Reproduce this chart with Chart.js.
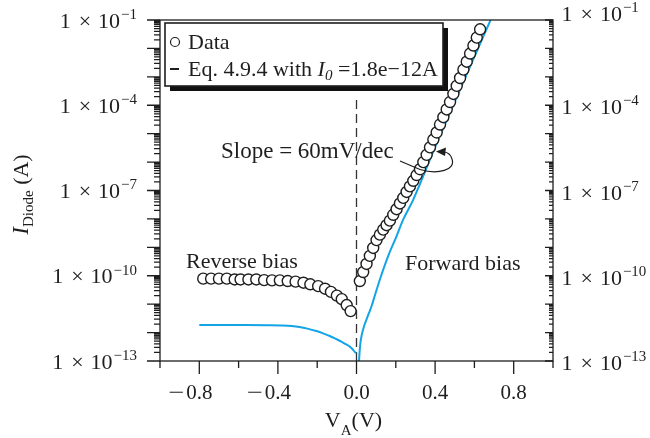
<!DOCTYPE html>
<html>
<head>
<meta charset="utf-8">
<script src="https://cdn.jsdelivr.net/npm/chart.js@4.4.1/dist/chart.umd.min.js"></script>
<style>
html, body { margin: 0; padding: 0; background: #fff; }
#wrap { width: 650px; height: 438px; }
</style>
</head>
<body>
<div id="wrap"><canvas id="chart-diode-iv" width="650" height="438"></canvas></div>
<script>
// measured |I| for the reverse sweep
var reverseV = [-0.78, -0.74, -0.70, -0.66, -0.62, -0.59, -0.55, -0.51, -0.47, -0.43, -0.39,
	-0.35, -0.31, -0.27, -0.235, -0.195, -0.16, -0.13, -0.10, -0.075, -0.05, -0.03];
var reverseI = [7.9e-11, 7.9e-11, 7.9e-11, 7.9e-11, 7.4e-11, 7.4e-11, 7.4e-11, 7.4e-11, 7.0e-11, 6.9e-11, 6.9e-11,
	6.5e-11, 6.2e-11, 5.7e-11, 5.0e-11, 4.3e-11, 3.5e-11, 2.7e-11, 2.0e-11, 1.5e-11, 9.3e-12, 5.7e-12];

// measured I for the forward sweep
var forwardV = [0.017, 0.034, 0.051, 0.068, 0.085, 0.102, 0.119, 0.136, 0.153, 0.170,
	0.187, 0.204, 0.221, 0.238, 0.255, 0.272, 0.289, 0.306, 0.323, 0.340,
	0.357, 0.374, 0.391, 0.408, 0.425, 0.442, 0.459, 0.476, 0.493, 0.510,
	0.527, 0.544, 0.561, 0.578, 0.595, 0.612, 0.629];
var forwardI = [6.5e-11, 1.35e-10, 2.6e-10, 5.0e-10, 9.5e-10, 1.8e-9, 2.8e-9, 4.2e-9, 6.0e-9, 8.7e-9,
	1.4e-8, 2.2e-8, 3.5e-8, 5.5e-8, 8.9e-8, 1.4e-7, 2.2e-7, 3.5e-7, 5.6e-7, 1.0e-6,
	1.8e-6, 3.3e-6, 6.2e-6, 1.1e-5, 2.1e-5, 3.8e-5, 7.1e-5, 1.3e-4, 2.5e-4, 4.8e-4,
	9.1e-4, 1.8e-3, 3.4e-3, 6.6e-3, 1.26e-2, 2.4e-2, 4.7e-2];

// Eq. 4.9.4 curve, I0 = 1.8e-12 A
var modelRevV = [-0.80, -0.60, -0.45, -0.375, -0.33, -0.29, -0.25, -0.204, -0.17, -0.136,
	-0.105, -0.077, -0.055, -0.034, -0.02, -0.009, -0.002];
var modelRevI = [1.84e-12, 1.84e-12, 1.82e-12, 1.78e-12, 1.7e-12, 1.57e-12, 1.38e-12, 1.13e-12, 9.4e-13, 7.6e-13,
	6.0e-13, 4.8e-13, 3.9e-13, 3.2e-13, 2.6e-13, 2.1e-13, 1.9e-13];
var modelFwdV = [0.011, 0.013, 0.016, 0.020, 0.027, 0.034, 0.042, 0.051, 0.063, 0.077,
	0.095, 0.119, 0.161, 0.204, 0.238, 0.289, 0.40, 0.55, 0.685];
var modelFwdI = [5e-14, 1e-13, 2.2e-13, 4.4e-13, 8.5e-13, 1.3e-12, 2.0e-12, 2.9e-12, 4.8e-12, 8.6e-12,
	2.2e-11, 7.4e-11, 4.9e-10, 2.5e-9, 9.6e-9, 4.8e-8, 3.35e-6, 8.4e-4, 0.11];

// V = 0 marker
var zeroLineV = [0, 0];
var zeroLineI = [1e-13, 2e-4];

var xTicks = [-0.8, -0.4, 0, 0.4, 0.8];
var xTickLabels = ['0.8', '0.4', '0.0', '0.4', '0.8'];
var xMinorTicks = [-1.0, -0.6, -0.2, 0.2, 0.6, 1.0];
var yTickExps = [-13, -10, -7, -4, -1];

var SERIF = '"Liberation Serif", "Times New Roman", serif';
var BLUE = '#12a4e6';
var INK = '#1e1e1e';

function pts(xs, ys) {
	return xs.map(function(v, i) { return { x: v, y: ys[i] }; });
}

// text runs: [text, size, italic, dy, gapAfter]
function runWidth(ctx, runs) {
	var w = 0;
	runs.forEach(function(r) {
		ctx.font = (r[2] ? 'italic ' : '') + r[1] + 'px ' + SERIF;
		w += ctx.measureText(r[0]).width + (r[4] || 0);
	});
	return w;
}
function drawRuns(ctx, runs, x, y) {
	runs.forEach(function(r) {
		ctx.font = (r[2] ? 'italic ' : '') + r[1] + 'px ' + SERIF;
		ctx.fillText(r[0], x, y + (r[3] || 0));
		x += ctx.measureText(r[0]).width + (r[4] || 0);
	});
	return x;
}
function powRuns(e) {
	return [['1', 22, false, 0, 8], ['\u00d7', 22, false, 0, 7], ['10', 22, false, 0, 1],
		['\u2212' + Math.abs(e), 15, false, -8.8, 0]];
}

var diodeDecor = {
	id: 'diodeDecor',
	afterDraw: function(chart) {
		var ctx = chart.ctx, a = chart.chartArea;
		var xs = chart.scales.x, ys = chart.scales.y;
		ctx.save();
		ctx.strokeStyle = INK;
		ctx.fillStyle = INK;
		ctx.lineWidth = 1.3;
		ctx.strokeRect(a.left, a.top, a.right - a.left, a.bottom - a.top);

		// x ticks, outward
		ctx.beginPath();
		xTicks.forEach(function(v) {
			var x = xs.getPixelForValue(v);
			ctx.moveTo(x, a.bottom); ctx.lineTo(x, a.bottom + 13);
		});
		xMinorTicks.forEach(function(v) {
			var x = xs.getPixelForValue(v);
			ctx.moveTo(x, a.bottom); ctx.lineTo(x, a.bottom + 7);
		});
		// log ticks: left outward, right inward
		for (var e = -13; e <= -1; e++) {
			for (var m = 1; m <= 9; m++) {
				if (e === -1 && m > 1) break;
				var y = ys.getPixelForValue(m * Math.pow(10, e));
				ctx.moveTo(a.left, y); ctx.lineTo(a.left - (m === 1 ? 13 : 6), y);
				ctx.moveTo(a.right, y); ctx.lineTo(a.right - (m === 1 ? 8 : 4), y);
			}
		}
		ctx.stroke();

		ctx.textBaseline = 'alphabetic';
		ctx.textAlign = 'left';

		// x tick labels, numeral centred, long minus hanging left
		ctx.font = '21px ' + SERIF;
		xTicks.forEach(function(v, i) {
			var w = ctx.measureText(xTickLabels[i]).width;
			var x0 = xs.getPixelForValue(v) - w / 2;
			ctx.fillText(xTickLabels[i], x0, a.bottom + 38);
			if (v < 0) {
				var mw = ctx.measureText('\u2212').width;
				ctx.save();
				ctx.translate(x0 - 2 - mw * 1.35, a.bottom + 38);
				ctx.scale(1.35, 1);
				ctx.fillText('\u2212', 0, 0);
				ctx.restore();
			}
		});

		// y tick labels on both sides
		yTickExps.forEach(function(e) {
			var y = ys.getPixelForValue(Math.pow(10, e));
			var runs = powRuns(e);
			drawRuns(ctx, runs, a.left - 23 - runWidth(ctx, runs), y + 7.7);
			drawRuns(ctx, runs, a.right + 8.5, e === -1 ? y + 1 : y + 9);
		});

		// axis titles
		var xt = [['V', 22, false, 0], ['A', 15, false, 7.7], ['(V)', 22, false, 0]];
		drawRuns(ctx, xt, xs.getPixelForValue(0) - runWidth(ctx, xt) / 2 - 3, 427);

		var yt = [['I', 23, true, 0], ['Diode', 15, false, 5], [' (A)', 22, false, 0]];
		ctx.save();
		ctx.translate(28, (a.top + a.bottom) / 2 + 4);
		ctx.rotate(-Math.PI / 2);
		drawRuns(ctx, yt, -runWidth(ctx, yt) / 2, 0);
		ctx.restore();

		// region notes
		ctx.font = '22px ' + SERIF;
		ctx.fillText('Reverse bias', 186, 268);
		ctx.fillText('Forward bias', 405, 270);
		ctx.font = '23px ' + SERIF;
		ctx.fillText('Slope = 60mV/dec', 221, 158);

		// slope pointer
		ctx.lineWidth = 1.2;
		ctx.beginPath();
		ctx.moveTo(400, 161);
		ctx.lineTo(420, 169.5);
		ctx.bezierCurveTo(438, 175, 456, 170, 452, 159);
		ctx.quadraticCurveTo(450, 152.5, 444, 152);
		ctx.stroke();
		ctx.beginPath();
		ctx.moveTo(436, 151.5);
		ctx.lineTo(446, 147.5);
		ctx.lineTo(445, 156);
		ctx.closePath();
		ctx.fill();

		// legend box with drop shadow
		var bx = a.left + 5, by = a.top + 3, bw = 278, bh = 63;
		ctx.fillStyle = '#111';
		ctx.fillRect(bx + 5, by + 5, bw, bh);
		ctx.fillStyle = '#fff';
		ctx.fillRect(bx, by, bw, bh);
		ctx.lineWidth = 1.6;
		ctx.strokeStyle = INK;
		ctx.strokeRect(bx, by, bw, bh);
		ctx.fillStyle = INK;

		ctx.lineWidth = 1.2;
		ctx.beginPath();
		ctx.arc(bx + 10, by + 19, 4.5, 0, Math.PI * 2);
		ctx.stroke();
		drawRuns(ctx, [['Data', 22, false, 0]], bx + 23, by + 25.5);

		ctx.lineWidth = 2;
		ctx.beginPath();
		ctx.moveTo(bx + 5, by + 46); ctx.lineTo(bx + 14, by + 46);
		ctx.stroke();
		drawRuns(ctx, [['Eq. 4.9.4 with ', 22, false, 0], ['I', 22, true, 0], ['0', 15, true, 4],
			[' =1.8e\u221212A', 22, false, 0]], bx + 23, by + 52.5);
		ctx.restore();
	}
};

var ivChart = document.getElementById('chart-diode-iv');
if (ivChart) {
	var chart = new Chart(ivChart, {
		type: 'line',
		data: {
			datasets: [{
				label: 'Data',
				data: pts(reverseV, reverseI).concat(pts(forwardV, forwardI)),
				showLine: false,
				pointStyle: 'circle',
				pointRadius: 5.5,
				pointBorderWidth: 1.4,
				pointBorderColor: INK,
				pointBackgroundColor: '#fff'
			}, {
				label: 'Eq. 4.9.4 reverse',
				data: pts(modelRevV, modelRevI),
				borderColor: BLUE,
				borderWidth: 2,
				pointRadius: 0,
				cubicInterpolationMode: 'monotone',
				fill: false
			}, {
				label: 'Eq. 4.9.4 forward',
				data: pts(modelFwdV, modelFwdI),
				borderColor: BLUE,
				borderWidth: 2,
				pointRadius: 0,
				cubicInterpolationMode: 'monotone',
				fill: false
			}, {
				label: 'V = 0',
				data: pts(zeroLineV, zeroLineI),
				borderColor: '#333',
				borderWidth: 1.3,
				borderDash: [9, 5],
				pointRadius: 0,
				fill: false
			}]
		},
		options: {
			responsive: false,
			animation: false,
			devicePixelRatio: 1,
			events: [],
			layout: { padding: { top: 20, left: 0, right: 0, bottom: 0 } },
			plugins: { legend: { display: false }, tooltip: { enabled: false } },
			scales: {
				x: {
					type: 'linear', min: -1, max: 1,
					grid: { display: false }, border: { display: false },
					ticks: { display: false },
					afterFit: function(s) { s.height = 77; }
				},
				y: {
					type: 'logarithmic', position: 'left', min: 1e-13, max: 1e-1,
					grid: { display: false }, border: { display: false },
					ticks: { display: false },
					afterFit: function(s) { s.width = 160; }
				},
				y2: {
					type: 'logarithmic', position: 'right', min: 1e-13, max: 1e-1,
					grid: { display: false }, border: { display: false },
					ticks: { display: false },
					afterFit: function(s) { s.width = 97; }
				}
			}
		},
		plugins: [diodeDecor]
	});
}
</script>
</body>
</html>
